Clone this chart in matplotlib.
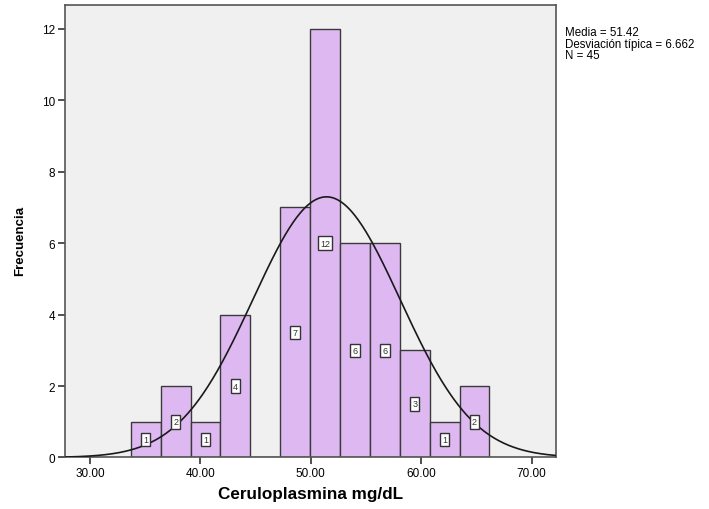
import numpy as np
import matplotlib
matplotlib.use("Agg")
import matplotlib.pyplot as plt

# Data
counts = [1, 2, 1, 4, 0, 7, 12, 6, 6, 3, 1, 2]
bin_start = 33.69
bin_width = 2.707
mean_val = 51.42
sd_val = 6.662
n_val = 45
xticks = [30, 40, 50, 60, 70]
yticks = [0, 2, 4, 6, 8, 10, 12]

plt.rcParams['font.family'] = ['Liberation Sans', 'DejaVu Sans']

fig = plt.figure(figsize=(7.09, 5.10), dpi=100)
ax = fig.add_axes([0.0917, 0.101, 0.6925, 0.887])
ax.set_facecolor('#f0f0f0')

edges = bin_start + bin_width * np.arange(len(counts))
ax.bar(edges, counts, width=bin_width, align='edge', color='#deb9f1',
       edgecolor='#3a3a3a', linewidth=1.0, zorder=2)

for e, c in zip(edges, counts):
    if c > 0:
        ax.text(e + bin_width / 2, c / 2, str(c), ha='center', va='center',
                fontsize=6.5, color='#333333', zorder=5,
                bbox=dict(boxstyle='square,pad=0.25', fc='white', ec='#333333', lw=1.0))

xs = np.linspace(27.7, 72.3, 400)
ys = n_val * bin_width / (sd_val * np.sqrt(2 * np.pi)) * np.exp(-0.5 * ((xs - mean_val) / sd_val) ** 2)
ax.plot(xs, ys, color='#1a1a1a', lw=1.2, zorder=4)

ax.set_xlim(27.74, 72.2)
ax.set_ylim(0, 12.66)
ax.set_xticks(xticks)
ax.set_xticklabels([f"{v:.2f}" for v in xticks])
ax.set_yticks(yticks)
ax.tick_params(direction='out', length=5, width=1.2, color='#333333', labelsize=8.5, pad=2)
for s in ax.spines.values():
    s.set_color('#555555')
    s.set_linewidth(1.2)

ax.set_xlabel('Ceruloplasmina mg/dL', fontsize=12.3, fontweight='bold')
ax.xaxis.set_label_coords(0.5, -0.063)
ax.set_ylabel('Frecuencia', fontsize=9.5, fontweight='bold')
ax.yaxis.set_label_coords(-0.08, 0.48)

fig.text(565 / 709, 1 - 27 / 510,
         f"Media = {mean_val:.2f}\nDesviación típica = {sd_val:.3f}\nN = {n_val}",
         ha='left', va='top', fontsize=8.3, linespacing=0.95)

fig.savefig('out.png', dpi=100)
